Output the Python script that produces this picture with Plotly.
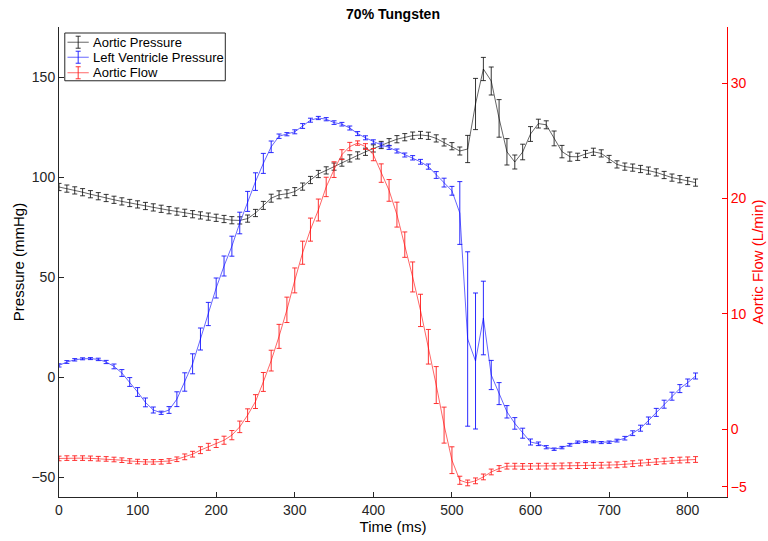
import plotly.graph_objects as go

# Sample times (ms)
time_ms = list(range(0, 820, 10))

# Aortic pressure (mmHg) and its error
aortic_pressure = [
    95.0, 94.2, 93.3, 92.4, 91.4, 90.4, 89.5, 88.6, 87.8, 87.0,
    86.3, 85.5, 84.8, 84.1, 83.4, 82.7, 82.1, 81.4, 80.8, 80.2,
    79.6, 79.0, 78.4, 78.3, 79.2, 82.0, 85.8, 89.4, 91.1, 91.6,
    92.7, 95.2, 98.5, 101.5, 103.3, 105.2, 107.2, 109.3, 110.8, 112.6,
    114.3, 116.0, 117.4, 118.9, 119.9, 120.7, 121.0, 120.6, 119.3, 117.3,
    115.4, 113.0, 114.0, 136.5, 154.0, 148.0, 129.3, 112.6, 107.5, 112.5,
    121.5, 126.7, 126.1, 119.3, 112.7, 110.2, 110.1, 111.5, 112.6, 111.8,
    109.0, 106.3, 105.2, 104.7, 104.0, 103.2, 102.3, 101.0, 99.7, 98.9,
    98.0, 97.2,
]
aortic_pressure_err = [
    1.8, 1.8, 1.8, 1.8, 1.8, 1.8, 1.8, 1.8, 1.8, 1.8,
    1.8, 1.8, 1.8, 1.8, 1.8, 1.8, 1.8, 1.8, 1.8, 1.8,
    1.8, 1.8, 1.8, 1.8, 1.8, 1.8, 2.0, 2.0, 2.0, 2.0,
    2.0, 1.8, 1.8, 1.8, 1.8, 1.8, 1.8, 1.8, 1.8, 1.8,
    1.8, 1.8, 1.8, 1.8, 1.8, 1.8, 1.8, 1.8, 1.8, 1.8,
    1.8, 2.0, 6.8, 12.8, 5.8, 7.0, 9.4, 6.6, 3.5, 3.9,
    3.7, 2.2, 2.0, 3.7, 3.1, 2.3, 1.8, 1.8, 1.8, 1.8,
    1.8, 1.8, 1.8, 1.8, 1.8, 1.8, 1.8, 1.8, 1.8, 1.8,
    1.8, 1.8,
]

# Left ventricle pressure (mmHg) and its error
lv_pressure = [
    5.8, 7.5, 8.6, 9.1, 9.2, 8.8, 7.5, 5.3, 2.0, -2.5,
    -7.5, -12.7, -16.5, -17.9, -16.5, -11.1, -2.5, 6.6, 19.0, 31.5,
    44.5, 55.5, 65.4, 77.0, 87.8, 97.7, 106.8, 115.1, 120.4, 121.4,
    122.6, 125.5, 128.4, 129.5, 128.9, 127.2, 126.4, 124.5, 121.7, 119.6,
    117.6, 116.0, 114.8, 113.0, 111.0, 109.6, 107.6, 105.2, 101.0, 97.2,
    93.1, 82.0, 19.0, 8.0, 29.5, 1.0, -8.3, -17.4, -23.2, -28.1,
    -32.5, -33.4, -35.1, -36.1, -35.3, -33.9, -32.6, -32.3, -32.4, -32.8,
    -32.6, -31.8, -30.6, -28.1, -25.6, -21.8, -17.7, -13.6, -9.6, -5.8,
    -2.8, 0.5,
]
lv_pressure_err = [
    0.8, 0.7, 0.6, 0.5, 0.5, 0.6, 0.8, 1.2, 1.7, 2.2,
    2.2, 2.2, 1.5, 0.8, 1.7, 3.7, 4.6, 5.0, 5.5, 5.8,
    5.0, 5.0, 5.0, 5.4, 5.0, 4.4, 5.0, 2.9, 1.1, 0.8,
    1.0, 1.2, 1.0, 0.8, 0.8, 0.9, 0.9, 1.0, 1.0, 1.0,
    1.0, 1.0, 1.0, 1.0, 1.0, 1.1, 1.2, 1.3, 1.7, 2.2,
    2.2, 15.7, 43.6, 34.0, 18.4, 7.3, 5.5, 3.1, 2.9, 2.5,
    1.5, 0.9, 0.8, 0.6, 0.6, 0.7, 0.6, 0.5, 0.5, 0.5,
    0.6, 0.7, 0.9, 1.2, 1.5, 1.8, 2.0, 2.0, 2.0, 2.0,
    1.8, 1.5,
]

# Aortic flow (L/min) and its error
aortic_flow = [
    -2.53, -2.50, -2.50, -2.50, -2.52, -2.55, -2.57, -2.62, -2.68, -2.75,
    -2.80, -2.83, -2.83, -2.82, -2.75, -2.60, -2.39, -2.16, -1.81, -1.52,
    -1.23, -0.95, -0.51, 0.21, 1.22, 2.40, 4.10, 5.95, 8.05, 10.35,
    12.9, 15.3, 17.3, 19.0, 21.0, 22.5, 23.8, 24.5, 24.8, 24.5,
    23.8, 22.2, 20.7, 18.6, 16.0, 13.2, 10.3, 7.15, 3.83, 0.36,
    -2.68, -4.42, -4.65, -4.47, -4.13, -3.70, -3.40, -3.20, -3.20, -3.22,
    -3.22, -3.20, -3.20, -3.20, -3.18, -3.16, -3.15, -3.15, -3.13, -3.12,
    -3.10, -3.08, -3.03, -2.98, -2.92, -2.86, -2.80, -2.75, -2.70, -2.67,
    -2.65, -2.62,
]
aortic_flow_err = [
    0.2, 0.2, 0.2, 0.2, 0.2, 0.2, 0.2, 0.2, 0.2, 0.2,
    0.2, 0.2, 0.2, 0.2, 0.2, 0.2, 0.25, 0.25, 0.3, 0.3,
    0.35, 0.35, 0.4, 0.5, 0.55, 0.6, 0.82, 0.9, 1.04, 1.1,
    1.08, 1.0, 1.0, 0.95, 0.84, 0.68, 0.43, 0.36, 0.19, 0.25,
    0.53, 0.8, 0.94, 1.08, 1.1, 1.3, 1.4, 1.5, 1.6, 1.56,
    1.16, 0.35, 0.25, 0.25, 0.25, 0.25, 0.25, 0.25, 0.25, 0.25,
    0.25, 0.25, 0.25, 0.25, 0.25, 0.25, 0.25, 0.25, 0.25, 0.25,
    0.25, 0.25, 0.25, 0.25, 0.25, 0.25, 0.25, 0.25, 0.25, 0.25,
    0.25, 0.25,
]

x_ticks = [0, 100, 200, 300, 400, 500, 600, 700, 800]
left_ticks = [-50, 0, 50, 100, 150]
right_ticks = [-5, 0, 10, 20, 30]

FONT = "Liberation Sans, Arial, Helvetica, sans-serif"
AXIS_GRAY = "#262626"

W, H = 768, 541
M_L, M_R, M_T, M_B = 58.5, 40.7, 27.3, 44.3
PLOT_W, PLOT_H = W - M_L - M_R, H - M_T - M_B


def px_x(px):
    return (px - M_L) / PLOT_W


def px_y(py):
    return (H - M_B - py) / PLOT_H


series = [
    dict(name="Aortic Pressure", y=aortic_pressure, err=aortic_pressure_err,
         line="rgba(0,0,0,0.6)", bar="rgba(20,20,20,0.85)", axis="y"),
    dict(name="Left Ventricle Pressure", y=lv_pressure, err=lv_pressure_err,
         line="rgba(0,0,255,0.6)", bar="rgba(20,20,255,0.9)", axis="y"),
    dict(name="Aortic Flow", y=aortic_flow, err=aortic_flow_err,
         line="rgba(255,0,0,0.6)", bar="rgba(255,30,30,0.9)", axis="y2"),
]

fig = go.Figure()
for s in series:
    fig.add_trace(go.Scatter(
        x=time_ms, y=s["y"], name=s["name"], mode="lines", yaxis=s["axis"],
        showlegend=False,
        line=dict(color=s["line"], width=1),
        error_y=dict(type="data", array=s["err"], visible=True,
                     color=s["bar"], thickness=1, width=2.5),
    ))

# Compact boxed legend with errorbar glyphs
shapes = [dict(type="rect", xref="paper", yref="paper",
               x0=px_x(64.3), x1=px_x(225), y0=px_y(81), y1=px_y(33.3),
               line=dict(color=AXIS_GRAY, width=1), fillcolor="white", layer="above")]
annotations = []
row_y = [42.5, 57.5, 73.0]
for s, ry in zip(series, row_y):
    col = s["bar"]
    shapes.append(dict(type="line", xref="paper", yref="paper",
                       x0=px_x(67), x1=px_x(88.3), y0=px_y(ry), y1=px_y(ry),
                       line=dict(color=s["line"], width=1), layer="above"))
    shapes.append(dict(type="line", xref="paper", yref="paper",
                       x0=px_x(77.7), x1=px_x(77.7), y0=px_y(ry - 6), y1=px_y(ry + 6),
                       line=dict(color=col, width=1), layer="above"))
    for cy in (ry - 6, ry + 6):
        shapes.append(dict(type="line", xref="paper", yref="paper",
                           x0=px_x(75.2), x1=px_x(80.2), y0=px_y(cy), y1=px_y(cy),
                           line=dict(color=col, width=1), layer="above"))
    annotations.append(dict(text=s["name"], xref="paper", yref="paper",
                            x=px_x(90.5), y=px_y(ry), xanchor="left", yanchor="middle",
                            showarrow=False, font=dict(size=13, color="#000")))

fig.update_layout(
    width=W, height=H,
    margin=dict(l=M_L, r=M_R, t=M_T, b=M_B, autoexpand=False),
    paper_bgcolor="white", plot_bgcolor="white",
    font=dict(family=FONT, size=14, color=AXIS_GRAY),
    title=dict(text="<b>70% Tungsten</b>", x=0.5, xref="paper", xanchor="center",
               y=1 - 14 / H, yanchor="middle", font=dict(size=14, color="#000")),
    showlegend=False,
    shapes=shapes,
    annotations=annotations,
    xaxis=dict(range=[0, 850], tickvals=x_ticks, showgrid=False, zeroline=False,
               showline=True, linecolor=AXIS_GRAY, linewidth=1,
               ticks="inside", ticklen=5, tickcolor=AXIS_GRAY,
               title=dict(text="Time (ms)", standoff=3, font=dict(size=15, color="#000"))),
    yaxis=dict(range=[-60, 175], tickvals=left_ticks, showgrid=False, zeroline=False,
               showline=True, linecolor=AXIS_GRAY, linewidth=1,
               ticks="inside", ticklen=5, tickcolor=AXIS_GRAY,
               title=dict(text="Pressure (mmHg)", standoff=3, font=dict(size=15, color="#000"))),
    yaxis2=dict(range=[-5.87, 34.86], tickvals=right_ticks, overlaying="y", side="right",
                showgrid=False, zeroline=False, showline=True, linecolor="#ff0000",
                linewidth=1, ticks="inside", ticklen=5, tickcolor="#ff0000",
                tickfont=dict(color="#ff0000"),
                title=dict(text="Aortic Flow (L/min)", standoff=6,
                           font=dict(size=15, color="#ff0000"))),
)

fig.write_html("out.html")
